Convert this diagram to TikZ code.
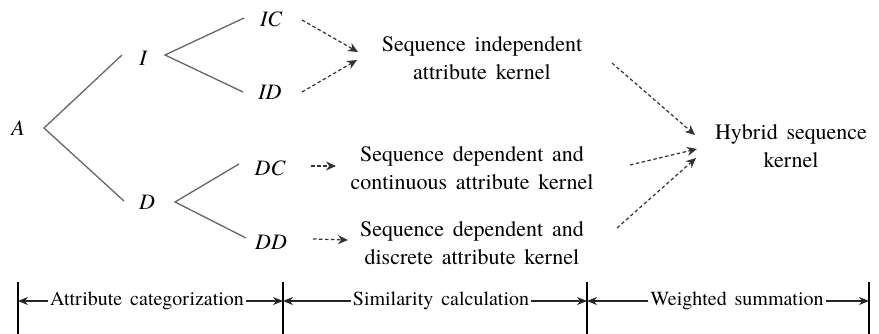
\documentclass[tikz,border=0pt]{standalone}
\usepackage{fontspec}
\setmainfont{texgyretermes}[Extension=.otf, UprightFont=*-regular,
  ItalicFont=*-italic, BoldFont=*-bold, BoldItalicFont=*-bolditalic]
\usetikzlibrary{arrows.meta}
\newcommand\widewords{\spaceskip=0.4em\relax}

\begin{document}
\begin{tikzpicture}[x=1pt,y=-1pt,
  letter/.style={font=\fontsize{22}{26}\selectfont\itshape, inner sep=0pt},
  kernel/.style={font=\fontsize{22}{28}\selectfont\widewords, align=center, inner sep=0pt},
  stage/.style={font=\fontsize{20}{24}\selectfont, inner sep=0pt, fill=white, inner xsep=2pt},
  branch/.style={draw=black!60, line width=1.3pt},
  flow/.style={draw=black!80, line width=1.2pt, dash pattern=on 3.5pt off 2.5pt,
    -{Stealth[length=10pt,width=9pt]}},
  tick/.style={line width=2.6pt},
  span/.style={draw=black!85, line width=1.2pt, -{Stealth[length=10pt,width=8pt]}}]
\useasboundingbox (0,0) rectangle (879,334);

% attribute tree
\node[letter] (A)  at (18,128)  {A};
\node[letter] (I)  at (143,58)  {I};
\node[letter] (D)  at (147,202) {D};
\node[letter] (IC) at (271,19)  {IC};
\node[letter] (ID) at (270,92)  {ID};
\node[letter] (DC) at (270,168) {DC};
\node[letter] (DD) at (271,242) {DD};

\draw[branch] ([shift={(-21,-3)}]I.center) -- ([shift={(26,0)}]A.center)
              -- ([shift={(-23,-1)}]D.center);
\draw[branch] ([shift={(-27,-1)}]IC.center) -- ([shift={(22,-3)}]I.center)
              -- ([shift={(-27,0)}]ID.center);
\draw[branch] ([shift={(-31,-4)}]DC.center) -- ([shift={(28,0)}]D.center)
              -- ([shift={(-25,-4)}]DD.center);

% kernels
\node[kernel] (sia) at (482,58)  {Sequence independent\\attribute kernel};
\node[kernel] (sdc) at (472,168) {Sequence dependent and\\continuous attribute kernel};
\node[kernel] (sdd) at (472,243) {Sequence dependent and\\discrete attribute kernel};
\node[kernel] (hyb) at (791,146) {Hybrid sequence\\kernel};

\draw[flow] ([shift={(31,1)}]IC.center)  -- ([shift={(-124,-6)}]sia.center);
\draw[flow] ([shift={(32,0)}]ID.center)  -- ([shift={(-125,2)}]sia.center);
\draw[flow] ([shift={(41,-2)}]DC.center) -- ([shift={(-136,-2)}]sdc.center);
\draw[flow] ([shift={(42,-3)}]DD.center) -- ([shift={(-124,-3)}]sdd.center);

\draw[flow] ([shift={(130,5)}]sia.center)  -- ([shift={(-96,-11)}]hyb.center);
\draw[flow] ([shift={(158,-3)}]sdc.center) -- ([shift={(-94,3)}]hyb.center);
\draw[flow] ([shift={(145,-15)}]sdd.center) -- ([shift={(-95,12)}]hyb.center);

% stage bar
\coordinate (t0) at (18,282);
\coordinate (t1) at (283,282);
\coordinate (t2) at (587,282);
\coordinate (t3) at (869,282);
\foreach \t in {t0,t1,t2,t3} \draw[tick] (\t) -- ++(0,52);

\node[stage] (s1) at (147,301) {Attribute\hspace{0.4em}categorization};
\node[stage] (s2) at (441,301) {Similarity\hspace{0.4em}calculation};
\node[stage] (s3) at (737,301) {Weighted\hspace{0.4em}summation};

\draw[span] (s1.west) -- ([yshift=-19pt]t0);
\draw[span] (s1.east) -- ([yshift=-19pt]t1);
\draw[span] (s2.west) -- ([yshift=-19pt]t1);
\draw[span] (s2.east) -- ([yshift=-19pt]t2);
\draw[span] (s3.west) -- ([yshift=-19pt]t2);
\draw[span] (s3.east) -- ([yshift=-19pt]t3);
\end{tikzpicture}
\end{document}
